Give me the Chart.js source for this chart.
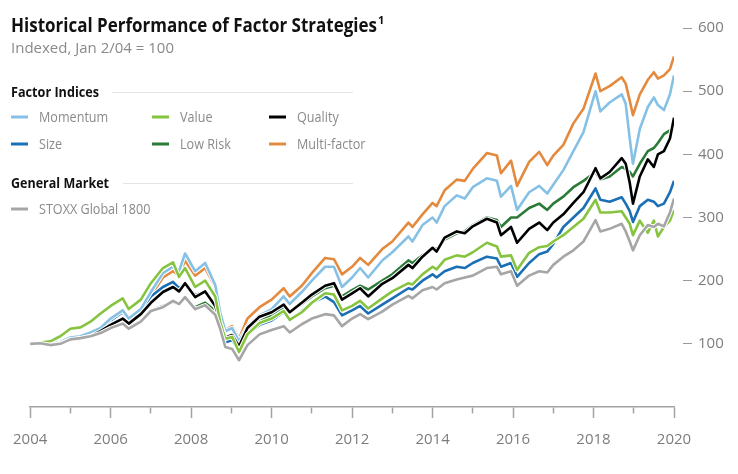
<!DOCTYPE html>
<html><head><meta charset="utf-8">
<script src="https://cdn.jsdelivr.net/npm/chart.js@4.4.1/dist/chart.umd.min.js"></script>
<style>html,body{margin:0;padding:0;background:#fff;}canvas{display:block;}</style>
</head><body>
<canvas id="c" width="738" height="474"></canvas>
<script>
// ---- data (indexed, Jan 2/04 = 100) ----
const dates = [
  2004.0, 2004.25, 2004.5, 2004.75,
  2005.0, 2005.25, 2005.5, 2005.75,
  2006.0, 2006.3, 2006.45, 2006.75,
  2007.0, 2007.3, 2007.55, 2007.7, 2007.85,
  2008.1, 2008.35, 2008.6, 2008.72, 2008.85,
  2009.02, 2009.19, 2009.4, 2009.7,
  2010.0, 2010.3, 2010.45, 2010.75,
  2011.0, 2011.33, 2011.55, 2011.75,
  2012.0, 2012.2, 2012.4, 2012.75,
  2013.0, 2013.4, 2013.5, 2013.75,
  2014.0, 2014.1, 2014.3, 2014.6, 2014.8,
  2015.0, 2015.35, 2015.6, 2015.7, 2015.95,
  2016.1, 2016.4, 2016.65, 2016.85,
  2017.0, 2017.25, 2017.5, 2017.75,
  2018.05, 2018.17, 2018.4, 2018.7, 2018.8, 2018.9, 2018.98,
  2019.15, 2019.35, 2019.5, 2019.6, 2019.75, 2019.9, 2020.0
];
const momentum = [
  100,102,100,103, 110,112,118,125, 140,153,140,155, 182,212,222,215,243,
  215,228,193,150,120, 125,104,128,145, 155,175,163,182, 200,222,222,190,
  205,220,205,232, 245,270,262,288, 300,292,318,335,330, 348,362,358,333,350,
  312,340,350,338, 352,375,405,435, 500,468,482,495,480,425,385,
  440,475,490,478,470,495,525
];
const size = [
  100,102,100,104, 110,111,117,125, 137,150,138,152, 175,190,198,188,195,
  177,183,160,130,102, 106,88,115,130, 137,150,137,152, 165,175,166,145,
  153,160,148,162, 172,188,186,200, 210,205,215,222,220, 228,238,235,222,228,
  206,228,242,246, 258,285,300,315, 346,328,325,332,322,310,293,
  318,328,325,318,322,340,358
];
const value = [
  100,102,104,112, 124,126,135,148, 160,172,155,170, 196,220,229,206,220,
  190,200,175,135,108, 111,87,115,133, 140,152,138,150, 165,180,178,153,
  160,168,156,172, 183,196,194,210, 222,218,233,240,238, 245,260,254,238,240,
  217,244,253,255, 262,272,285,298, 328,308,308,310,300,290,272,
  295,276,295,270,285,295,312
];
const lowRisk = [
  100,101,99,101, 106,108,112,118, 126,132,126,136, 153,160,166,163,172,
  158,165,152,135,112, 112,97,118,135, 145,158,150,163, 175,188,192,175,
  185,192,186,200, 210,232,228,240, 252,250,265,275,278, 288,300,296,285,300,
  300,315,322,312, 322,333,348,358, 372,360,365,380,377,372,365,
  385,405,410,418,432,438,440
];
const quality = [
  100,101,99,101, 106,108,112,120, 130,140,132,147, 165,182,190,183,196,
  174,183,160,135,110, 114,96,125,143, 150,162,150,165, 178,192,196,170,
  180,188,175,195, 204,225,220,238, 252,246,268,278,275, 286,298,292,272,285,
  260,282,292,280, 292,305,323,340, 378,362,372,394,385,355,322,
  365,392,380,400,405,425,458
];
const multiFactor = [
  100,102,100,103, 109,111,117,124, 137,150,138,152, 176,205,215,208,232,
  208,220,190,150,122, 128,108,140,158, 170,188,175,192, 212,236,234,210,
  222,236,225,250, 262,292,285,305, 323,318,343,360,358, 377,402,398,370,390,
  350,388,404,383, 398,415,449,472, 528,500,508,522,512,485,462,
  495,518,530,520,525,535,555
];
const stoxx = [
  100,101,98,100, 107,109,112,117, 125,132,124,135, 152,158,168,163,174,
  155,161,146,124,95, 92,74,98,115, 122,128,118,131, 140,147,145,128,
  140,147,139,151, 162,176,172,185, 190,186,196,202,205, 208,220,222,210,215,
  192,208,215,213, 225,238,248,262, 296,278,282,290,278,262,248,
  272,288,285,290,286,308,330
];
const yTickValues = [100, 200, 300, 400, 500, 600];
const xTickLabels = [2004, 2006, 2008, 2010, 2012, 2014, 2016, 2018, 2020];

// ---- chart ----
const pts = arr => dates.map((d, i) => ({ x: d, y: arr[i] }));
function ds(label, arr, color, order) {
  return { label, data: pts(arr), borderColor: color, backgroundColor: color,
    borderWidth: 2.6, pointRadius: 0, tension: 0, order, fill: false,
    borderJoinStyle: 'round' };
}
const datasets = [
  ds('Momentum', momentum, '#86c1e5', 3),
  ds('Size', size, '#1a6fb5', 4),
  ds('Value', value, '#86c440', 1),
  ds('Low Risk', lowRisk, '#2b7a37', 5),
  ds('Quality', quality, '#000000', 2),
  ds('Multi-factor', multiFactor, '#e38a3e', 6),
  ds('STOXX Global 1800', stoxx, '#a6a6a6', 0)
];

const haloPlugin = {
  id: 'halo',
  beforeDatasetDraw(chart, args) {
    const c = chart.ctx, p = args.meta.data;
    if (!p.length) return;
    c.save();
    c.beginPath();
    p.forEach((q, i) => i ? c.lineTo(q.x, q.y) : c.moveTo(q.x, q.y));
    c.lineWidth = 4.6; c.strokeStyle = '#ffffff'; c.lineJoin = 'round';
    c.stroke();
    c.restore();
  }
};

function txt(c, s, x, y, font, color, hScale) {
  c.save(); c.font = font; c.fillStyle = color; c.textBaseline = 'alphabetic'; c.textAlign = 'left';
  c.translate(x, y); c.scale(hScale || 1, 1); c.fillText(s, 0, 0); c.restore();
}
function fitTxt(c, s, x, y, font, color, w) {
  c.save(); c.font = font; const m = c.measureText(s).width; c.restore();
  txt(c, s, x, y, font, color, Math.min(1, w / m));
}

const legendPlugin = {
  id: 'customText',
  afterDraw(chart) {
    const c = chart.ctx;
    const byLabel = {};
    chart.data.datasets.forEach(d => byLabel[d.label] = d);
    fitTxt(c, 'Historical Performance of Factor Strategies', 11, 31.5, 'bold 20px "Open Sans"', '#111111', 366);
    txt(c, '1', 378, 24, 'bold 11px "Open Sans"', '#111111');
    fitTxt(c, 'Indexed, Jan 2/04 = 100', 11, 52.5, '15px "Open Sans"', '#8a8a8a', 164);

    fitTxt(c, 'Factor Indices', 11, 96.5, 'bold 14px "Open Sans"', '#111111', 88);
    fitTxt(c, 'General Market', 11, 187.5, 'bold 14px "Open Sans"', '#111111', 98);
    c.save(); c.strokeStyle = '#e4e4e4'; c.lineWidth = 1;
    c.beginPath(); c.moveTo(112, 92.5); c.lineTo(353, 92.5); c.moveTo(123, 183.5); c.lineTo(353, 183.5); c.stroke();
    c.restore();

    const items = [
      ['Momentum', 11, 117], ['Value', 152, 117], ['Quality', 269, 117],
      ['Size', 11, 144], ['Low Risk', 152, 144], ['Multi-factor', 269, 144],
      ['STOXX Global 1800', 11, 209]
    ];
    items.forEach(([lab, x, y]) => {
      const d = byLabel[lab];
      c.save(); c.strokeStyle = d.borderColor; c.lineWidth = 3; c.lineCap = 'butt';
      c.beginPath(); c.moveTo(x, y); c.lineTo(x + 17, y); c.stroke(); c.restore();
      txt(c, lab, x + 28, y + 5, '14px "Open Sans"', '#8a8a8a', 0.9);
    });
  }
};

new Chart(document.getElementById('c'), {
  type: 'line',
  data: { datasets },
  plugins: [haloPlugin, legendPlugin],
  options: {
    responsive: false, animation: false, devicePixelRatio: 1,
    layout: { padding: { left: 27, top: 28, right: 0, bottom: 0 } },
    plugins: { legend: { display: false }, tooltip: { enabled: false }, title: { display: false } },
    scales: {
      x: {
        type: 'linear', min: 2004, max: 2020, position: 'bottom',
        afterFit: s => { s.height = 67; },
        ticks: { stepSize: 1, autoSkip: false, maxRotation: 0, padding: 13,
          color: '#7d7d7d', font: { family: 'Open Sans', size: 15 },
          callback: v => xTickLabels.includes(v) ? String(v) : '' },
        grid: { display: true, drawOnChartArea: false, tickLength: 11, tickWidth: 1.5, tickColor: '#a3a3a3',
          tickBorderDash: c => (c.tick && Math.round(c.tick.value) % 2 !== 0) ? [6, 30] : [] },
        border: { display: true, color: '#a3a3a3', width: 1.5 }
      },
      y: {
        type: 'linear', min: 0, max: 600, position: 'right',
        afterFit: s => { s.width = 64; },
        afterBuildTicks: s => { s.ticks = [0].concat(yTickValues).map(v => ({ value: v })); },
        ticks: { padding: 6, color: '#7d7d7d', font: { family: 'Open Sans', size: 15 },
          callback: v => yTickValues.includes(v) ? String(v) : '' },
        grid: { display: true, drawOnChartArea: false, tickLength: 18, tickWidth: 1, tickColor: '#9a9a9a',
          tickBorderDash: c => (c.tick && yTickValues.includes(c.tick.value)) ? [0, 9, 9, 60] : [0, 60] },
        border: { display: false }
      }
    }
  }
});
</script>
</body></html>
